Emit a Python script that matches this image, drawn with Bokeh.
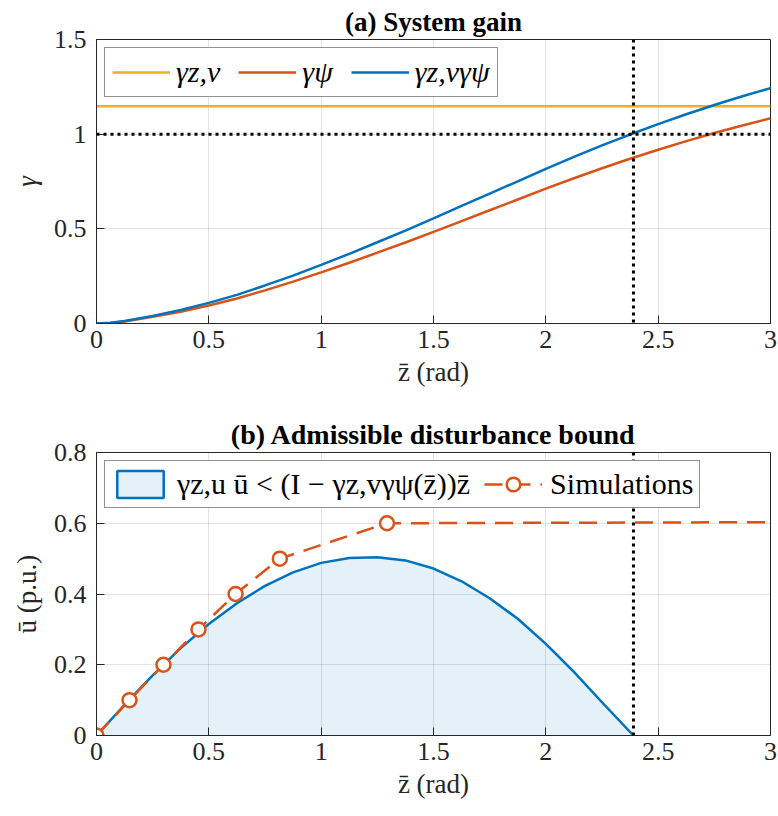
from bokeh.plotting import figure
from bokeh.models import Range1d, Span, Legend, LegendItem, FixedTicker
from bokeh.layouts import column
from bokeh.embed import file_html
from bokeh.resources import INLINE

# ---------------- data ----------------
z = [0, 0.0625, 0.125, 0.25, 0.375, 0.5, 0.625, 0.75, 0.875, 1.0, 1.125, 1.25, 1.375, 1.5,
     1.625, 1.75, 1.875, 2.0, 2.125, 2.25, 2.375, 2.5, 2.625, 2.75, 2.875, 3.0]
gamma_psi = [0, 0.003, 0.011, 0.035, 0.062, 0.095, 0.132, 0.175, 0.221, 0.270, 0.321,
             0.374, 0.428, 0.484, 0.541, 0.598, 0.655, 0.712, 0.767, 0.820, 0.870,
             0.918, 0.963, 1.006, 1.046, 1.084]
gamma_prod = [0, 0.0035, 0.013, 0.040, 0.071, 0.109, 0.151, 0.201, 0.253, 0.310, 0.368,
              0.429, 0.491, 0.555, 0.621, 0.686, 0.751, 0.817, 0.880, 0.941, 0.998,
              1.053, 1.105, 1.154, 1.200, 1.243]
gamma_zv_z = [0, 3.0]
gamma_zv = [1.147, 1.147]

z_crit = 2.39
gain_ref = 1.0

zb = [0, 0.125, 0.25, 0.375, 0.5, 0.625, 0.75, 0.875, 1.0, 1.125, 1.25, 1.375, 1.5,
      1.625, 1.75, 1.875, 2.0, 2.125, 2.25, 2.39]
ub = [0, 0.087, 0.170, 0.247, 0.315, 0.374, 0.423, 0.461, 0.488, 0.502, 0.504, 0.495,
      0.472, 0.436, 0.388, 0.330, 0.259, 0.180, 0.094, 0]

sim_z = [0, 0.147, 0.298, 0.454, 0.619, 0.816, 1.293, 3.0]
sim_u = [0, 0.1, 0.2, 0.3, 0.4, 0.5, 0.6, 0.603]
n_sim_markers = 7

x_ticks = [0, 0.5, 1, 1.5, 2, 2.5, 3]
x_tick_labels = ["0", "0.5", "1", "1.5", "2", "2.5", "3"]
y1_ticks = [0, 0.5, 1, 1.5]
y1_tick_labels = ["0", "0.5", "1", "1.5"]
y2_ticks = [0, 0.2, 0.4, 0.6, 0.8]
y2_tick_labels = ["0", "0.2", "0.4", "0.6", "0.8"]

# ---------------- style ----------------
FONT = "Liberation Serif"
BLUE = "#0072BD"
RED = "#D95319"
YELLOW = "#EDB120"
AX = "#262626"
TICK_FS = "26px"


def make_fig(title, title_fs, yr, yt, ytl, ylabel, ystyle, h, bottom):
    p = figure(width=778, height=h,
               x_range=Range1d(0, 3), y_range=Range1d(*yr),
               output_backend="svg", toolbar_location=None,
               min_border_left=96, min_border_right=8,
               min_border_top=39, min_border_bottom=bottom)
    p.title.text = title
    p.title.text_font = FONT
    p.title.text_font_size = title_fs
    p.title.text_font_style = "bold"
    p.title.align = "center"
    p.title.text_color = "black"
    p.title.standoff = 6
    p.background_fill_color = "white"
    p.border_fill_color = "white"
    p.outline_line_color = AX
    p.outline_line_width = 1

    xt = FixedTicker(ticks=x_ticks)
    ytk = FixedTicker(ticks=yt)
    for ax, ticks, labels in ((p.xaxis[0], xt, x_tick_labels),
                              (p.yaxis[0], ytk, ytl)):
        ax.ticker = ticks
        ax.major_label_overrides = dict(zip(ticks.ticks, labels))
        ax.major_label_text_font = FONT
        ax.major_label_text_font_size = TICK_FS
        ax.major_label_text_color = AX
        ax.axis_line_color = AX
        ax.major_tick_line_color = AX
        ax.major_tick_in = 8
        ax.major_tick_out = 0
        ax.minor_tick_line_color = None
        ax.axis_label_text_font = FONT
        ax.axis_label_text_font_size = "27px"
        ax.axis_label_text_color = AX
    p.xaxis[0].major_label_standoff = 7
    p.yaxis[0].major_label_standoff = 10
    p.xaxis[0].axis_label_standoff = 6
    p.yaxis[0].axis_label_standoff = 9
    p.xaxis[0].axis_label = "z\u0304 (rad)"
    p.xaxis[0].axis_label_text_font_style = "normal"
    p.yaxis[0].axis_label = ylabel
    p.yaxis[0].axis_label_text_font_style = ystyle

    p.xgrid.ticker = xt
    p.ygrid.ticker = ytk
    for g in (p.xgrid[0], p.ygrid[0]):
        g.grid_line_color = AX
        g.grid_line_alpha = 0.13
        g.grid_line_width = 1
    return p


# ---------------- (a) System gain ----------------
p1 = make_fig("(a) System gain", "27px", (0, 1.5), y1_ticks, y1_tick_labels,
              "\u03b3", "italic", 413, 90)
r_zv = p1.line(gamma_zv_z, gamma_zv, line_color=YELLOW, line_width=2.5)
r_psi = p1.line(z, gamma_psi, line_color=RED, line_width=2.5)
r_prod = p1.line(z, gamma_prod, line_color=BLUE, line_width=2.5)
p1.add_layout(Span(location=gain_ref, dimension="width", line_color="black",
                   line_width=3, line_dash="3 4"))
p1.add_layout(Span(location=z_crit, dimension="height", line_color="black",
                   line_width=3, line_dash="3 4"))
leg1 = Legend(items=[LegendItem(label="\u03b3z,v", renderers=[r_zv]),
                     LegendItem(label="\u03b3\u03c8", renderers=[r_psi]),
                     LegendItem(label="\u03b3z,v\u03b3\u03c8", renderers=[r_prod])],
              orientation="horizontal", location="top_left", margin=8,
              padding=7, spacing=18, glyph_width=58, glyph_height=30,
              label_standoff=6, label_text_font=FONT, label_text_font_size="30px",
              label_text_font_style="italic", label_text_color="black",
              border_line_color=AX, border_line_width=1,
              background_fill_color="white", background_fill_alpha=1)
p1.add_layout(leg1)

# ---------------- (b) Admissible disturbance bound ----------------
p2 = make_fig("(b) Admissible disturbance bound", "28px", (0, 0.8), y2_ticks,
              y2_tick_labels, "u\u0304 (p.u.)", "normal", 403, 81)
p2.varea(x=zb, y1=[0] * len(zb), y2=ub, fill_color=BLUE, fill_alpha=0.1)
p2.line(zb, ub, line_color=BLUE, line_width=2.5)
r_area_leg = p2.patch(zb, ub, fill_color=BLUE, fill_alpha=0.1, line_color=BLUE,
                      line_width=2.5, visible=False)
r_sim_line = p2.line(sim_z, sim_u, line_color=RED, line_width=2.5, line_dash="18 10")
r_sim_pts = p2.scatter(sim_z[:n_sim_markers], sim_u[:n_sim_markers], marker="circle",
                       size=14, line_color=RED, line_width=2.5, fill_color="white")
p2.add_layout(Span(location=z_crit, dimension="height", line_color="black",
                   line_width=3, line_dash="3 4"))
leg2 = Legend(items=[LegendItem(label="\u03b3z,u u\u0304 < (I \u2212 \u03b3z,v\u03b3\u03c8(z\u0304))z\u0304",
                                renderers=[r_area_leg]),
                     LegendItem(label="Simulations", renderers=[r_sim_line, r_sim_pts])],
              orientation="horizontal", location="top_left", margin=8,
              padding=6, spacing=14, glyph_width=58, glyph_height=34,
              label_standoff=8, label_text_font=FONT, label_text_font_size="30px",
              label_text_font_style="normal", label_text_color="black",
              border_line_color=AX, border_line_width=1,
              background_fill_color="white", background_fill_alpha=1,
              inactive_fill_alpha=0)
p2.add_layout(leg2)

layout = column(p1, p2)
open("out.html", "w").write(file_html(layout, INLINE))
